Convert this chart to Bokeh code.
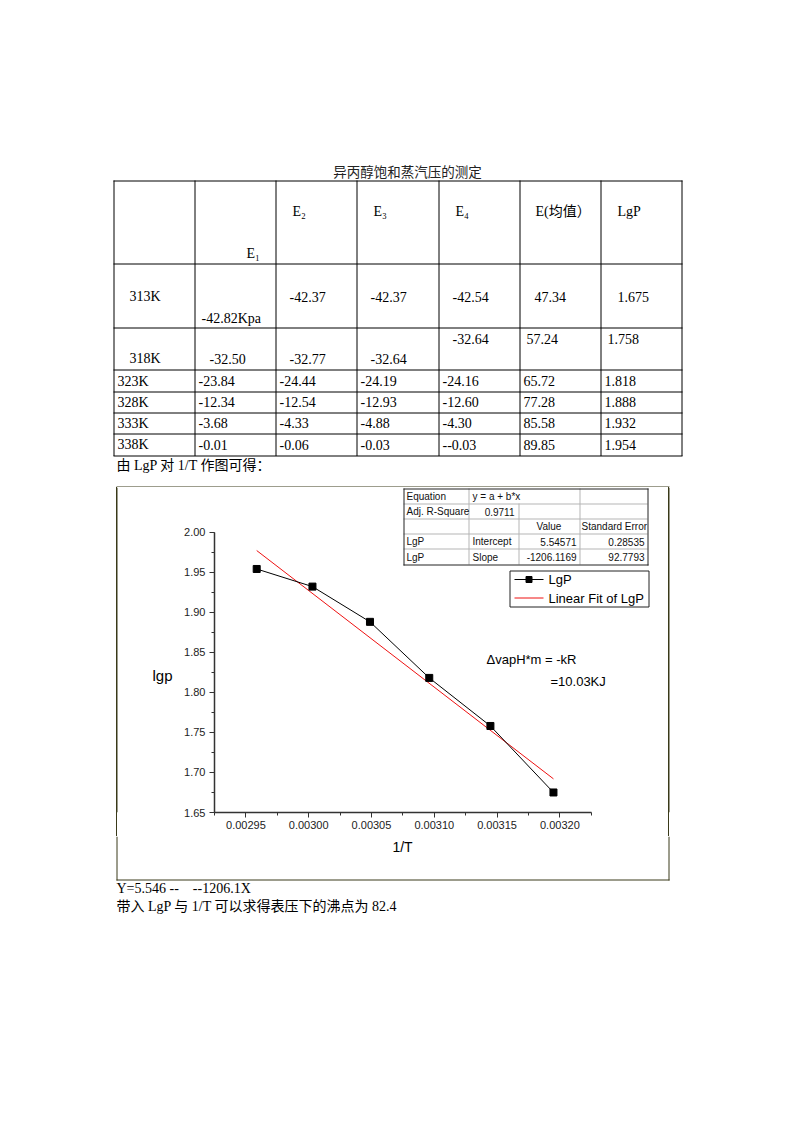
from bokeh.plotting import figure
from bokeh.models import Range1d, LinearAxis, SingleIntervalTicker, PrintfTickFormatter, Spacer
from bokeh.layouts import column, row
from bokeh.core.properties import value
from bokeh.embed import file_html
from bokeh.resources import INLINE

# ---------------- data ----------------
title_text = "异丙醇饱和蒸汽压的测定"
header = ["E₁", "E₂", "E₃", "E₄", "E(均值）", "LgP"]
temps = ["313K", "318K", "323K", "328K", "333K", "338K"]
E1 = ["-42.82Kpa", "-32.50", "-23.84", "-12.34", "-3.68", "-0.01"]
E2 = ["-42.37", "-32.77", "-24.44", "-12.54", "-4.33", "-0.06"]
E3 = ["-42.37", "-32.64", "-24.19", "-12.93", "-4.88", "-0.03"]
E4 = ["-42.54", "-32.64", "-24.16", "-12.60", "-4.30", "--0.03"]
E_mean = ["47.34", "57.24", "65.72", "77.28", "85.58", "89.85"]
LgP_text = ["1.675", "1.758", "1.818", "1.888", "1.932", "1.954"]

inv_T = [0.0029586, 0.0030030, 0.0030488, 0.0030960, 0.0031447, 0.0031949]
lgP = [1.954, 1.932, 1.888, 1.818, 1.758, 1.675]
fit_x = [0.0029586, 0.0031949]
fit_y = [1.977, 1.692]

inset_rows = [
    ["Equation", "y = a + b*x", "", ""],
    ["Adj. R-Square", "0.9711", "", ""],
    ["", "", "Value", "Standard Error"],
    ["LgP", "Intercept", "5.54571", "0.28535"],
    ["LgP", "Slope", "-1206.1169", "92.7793"],
]
legend_labels = ["LgP", "Linear Fit of LgP"]
note1 = "ΔvapH*m = -kR"
note2 = "=10.03KJ"
caption_mid = "由 LgP 对 1/T 作图可得："
bottom1 = "Y=5.546 --\u00a0\u00a0\u00a0\u00a0--1206.1X"
bottom2 = "带入 LgP 与 1/T 可以求得表压下的沸点为 82.4"
x_label = "1/T"
y_label = "lgp"

# ---------------- styles ----------------
SERIF = value("'Liberation Serif', 'Noto Sans CJK SC'")
CJK = value("'Noto Sans CJK SC'")
SANS = value("'Liberation Sans'")
BOX = "#3a3a1a"


def page_fig(x0, x1, y0, y1, **kw):
    f = figure(width=x1 - x0, height=y1 - y0, x_range=Range1d(x0, x1), y_range=Range1d(y1, y0),
               output_backend="svg", toolbar_location=None, min_border=0,
               x_axis_type=None, y_axis_type=None, outline_line_color=None, **kw)
    f.grid.visible = False
    return f


# ---------------- top: table ----------------
T = page_fig(0, 793, 0, 487)
T.text([407], [170], text=[title_text], text_font=CJK, text_font_size="13.5px",
       text_align="center", text_baseline="middle", text_color="#222")

col_lines = [113, 194, 275, 356, 438, 519, 600, 681]
row_lines = [180, 263, 327, 369, 391, 412, 433, 455]
T.segment(x0=[c + 0.5 for c in col_lines], y0=[row_lines[0]] * len(col_lines),
          x1=[c + 0.5 for c in col_lines], y1=[row_lines[-1] + 0.5] * len(col_lines),
          line_color="black", line_width=1)
T.segment(x0=[col_lines[0]] * len(row_lines), y0=[r + 0.5 for r in row_lines],
          x1=[col_lines[-1] + 1] * len(row_lines), y1=[r + 0.5 for r in row_lines],
          line_color="black", line_width=1)

hdr_pos = [(246, 253), (292, 211), (373, 211), (455, 211), (535, 211), (617, 211)]
T.text([p[0] for p in hdr_pos], [p[1] for p in hdr_pos], text=header, text_font=SERIF,
       text_font_size="14px", text_baseline="middle", text_color="black")

pos_rows = [
    [(129, 296), (201, 318), (289, 296), (370, 296), (452, 296), (534, 296), (617, 296)],
    [(129, 358), (209, 358), (289, 358), (370, 358), (452, 338), (526, 338), (607, 338)],
]
reg_x = [117, 198, 279, 360, 442, 523, 604]
reg_y = [380.5, 401.5, 422.5, 444]
for i in range(6):
    cells = [temps[i], E1[i], E2[i], E3[i], E4[i], E_mean[i], LgP_text[i]]
    if i < 2:
        xs = [p[0] for p in pos_rows[i]]
        ys = [p[1] for p in pos_rows[i]]
    else:
        xs = reg_x
        ys = [reg_y[i - 2]] * 7
    T.text(xs, ys, text=cells, text_font=SERIF, text_font_size="14px",
           text_baseline="middle", text_color="black")

T.text([116], [465], text=[caption_mid], text_font=SERIF, text_font_size="14px",
       text_baseline="middle", text_color="black")
T.segment(x0=[116], y0=[486.5], x1=[669], y1=[486.5], line_color=BOX, line_width=1)

# ---------------- side strips (frames aligned with the chart frame 487..812) ----------------
edge_css = {"box-shadow": "inset 1px 0 0 0 #3a3a1a"}
LS = figure(width=60, height=349, x_range=Range1d(116, 176), y_range=Range1d(812, 487),
            output_backend="svg", toolbar_location=None, min_border=0, min_border_bottom=24,
            x_axis_type=None, y_axis_type=None, outline_line_color=None,
            border_fill_alpha=0, background_fill_alpha=0, styles=edge_css)
LS.grid.visible = False
LS.segment(x0=[116.5], y0=[487], x1=[116.5], y1=[812], line_color=BOX, line_width=1)
LS.text([152], [675], text=[y_label], text_font=SANS, text_font_size="15px",
        text_baseline="middle", text_color="black")

RS = figure(width=125, height=349, x_range=Range1d(668, 793), y_range=Range1d(812, 487),
            output_backend="svg", toolbar_location=None, min_border=0, min_border_bottom=24,
            x_axis_type=None, y_axis_type=None, outline_line_color=None,
            border_fill_alpha=0, background_fill_alpha=0, styles=edge_css)
RS.grid.visible = False
RS.segment(x0=[668.5], y0=[487], x1=[668.5], y1=[812], line_color=BOX, line_width=1)

# ---------------- chart ----------------
C = figure(width=492, height=349, x_range=Range1d(0.002925, 0.0032865), y_range=Range1d(1.65, 2.0557),
           output_backend="svg", toolbar_location=None, min_border_left=38, min_border_right=0,
           min_border_top=0, min_border_bottom=24, outline_line_color=None,
           x_axis_type=None, y_axis_type=None)
C.grid.visible = False
C.extra_x_ranges = {"px": Range1d(214, 668)}
C.extra_y_ranges = {"px": Range1d(812, 487)}

xaxis = LinearAxis(ticker=SingleIntervalTicker(interval=0.00005, num_minor_ticks=2),
                   formatter=PrintfTickFormatter(format="%.5f"), bounds=(0.002925, 0.003225))
yaxis = LinearAxis(ticker=SingleIntervalTicker(interval=0.05, num_minor_ticks=2),
                   formatter=PrintfTickFormatter(format="%.2f"), bounds=(1.65, 2.0))
for ax in (xaxis, yaxis):
    ax.axis_line_color = "#333333"
    ax.axis_line_width = 1.5
    ax.major_tick_line_color = "#333333"
    ax.minor_tick_line_color = "#333333"
    ax.major_tick_out = 5
    ax.major_tick_in = 0
    ax.minor_tick_out = 3
    ax.minor_tick_in = 0
    ax.major_label_text_font = "Liberation Sans"
    ax.major_label_text_font_size = "11px"
    ax.major_label_text_color = "#222222"
xaxis.major_label_standoff = 3
yaxis.major_label_standoff = 4
C.add_layout(xaxis, "below")
C.add_layout(yaxis, "left")

C.line(fit_x, fit_y, line_color="#ee1111", line_width=1)
C.line(inv_T, lgP, line_color="black", line_width=1)
C.scatter(inv_T, lgP, marker="square", size=7, color="black")

px = dict(x_range_name="px", y_range_name="px")
# inset fit table
ix = [403, 468, 518, 579, 647]
iy = [488, 503, 518, 533, 548, 564]
C.segment(x0=[ix[0]] * 4, y0=[y + 0.5 for y in iy[1:-1]], x1=[ix[-1]] * 4, y1=[y + 0.5 for y in iy[1:-1]],
          line_color="#b5b5b5", line_width=1, **px)
C.segment(x0=[ix[1] + 0.5, ix[2] + 0.5, ix[3] + 0.5], y0=[iy[0], iy[1], iy[0]],
          x1=[ix[1] + 0.5, ix[2] + 0.5, ix[3] + 0.5], y1=[iy[-1], iy[-1], iy[-1]],
          line_color="#b5b5b5", line_width=1, **px)
C.segment(x0=[ix[0] + 0.5, ix[-1] + 0.5, ix[0], ix[0]], y0=[iy[0], iy[0], iy[0] + 0.5, iy[-1] + 0.5],
          x1=[ix[0] + 0.5, ix[-1] + 0.5, ix[-1] + 1, ix[-1] + 1], y1=[iy[-1] + 1, iy[-1] + 1, iy[0] + 0.5, iy[-1] + 0.5],
          line_color="#222222", line_width=1, **px)
cell_x = [406, 472, 548.5, 581]
cell_x_right = [None, 514, 576, 644]
for r, cells in enumerate(inset_rows):
    yc = (iy[r] + iy[r + 1]) / 2 + 0.5
    for k, t in enumerate(cells):
        if not t:
            continue
        if r == 2 and k == 2:
            C.text([cell_x[2]], [yc], text=[t], text_align="center", text_baseline="middle",
                   text_font=SANS, text_font_size="10px", text_color="#111", **px)
        elif (r in (1, 3, 4)) and k >= 1 and not (k == 1 and r != 1):
            C.text([cell_x_right[k]], [yc], text=[t], text_align="right", text_baseline="middle",
                   text_font=SANS, text_font_size="10px", text_color="#111", **px)
        else:
            C.text([cell_x[k]], [yc], text=[t], text_align="left", text_baseline="middle",
                   text_font=SANS, text_font_size="10px", text_color="#111", **px)

# legend
C.quad(left=[509.5], right=[648.5], top=[570.5], bottom=[606.5], fill_color="white",
       line_color="#222222", line_width=1, **px)
C.segment(x0=[514, 514], y0=[579, 597.5], x1=[543, 543], y1=[579, 597.5],
          line_color=["black", "#ee1111"], line_width=1, **px)
C.scatter([528.5], [579], marker="square", size=6, color="black", **px)
C.text([548, 548], [579, 597.5], text=legend_labels, text_font=SANS, text_font_size="13px",
       text_baseline="middle", text_color="black", **px)

# annotation
C.text([486, 550], [659, 681], text=[note1, note2], text_font=SANS, text_font_size="13px",
       text_baseline="middle", text_color="black", **px)

# ---------------- bottom ----------------
B = page_fig(0, 793, 836, 1122)
B.segment(x0=[116.5, 668.5, 116], y0=[836, 836, 879.5], x1=[116.5, 668.5, 669], y1=[880, 880, 879.5],
          line_color=BOX, line_width=1)
B.text([402], [846], text=[x_label], text_font=SANS, text_font_size="14px",
       text_align="center", text_baseline="middle", text_color="black")
B.text([116, 116], [888, 906], text=[bottom1, bottom2], text_font=SERIF, text_font_size="14px",
       text_baseline="middle", text_color="black")

layout = column(T, row(Spacer(width=116, height=349), LS, C, RS), B)
open("out.html", "w").write(file_html(layout, INLINE))
